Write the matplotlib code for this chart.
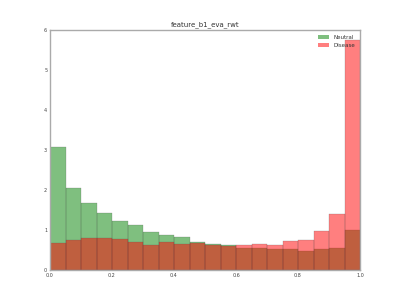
import numpy as np
import matplotlib
matplotlib.use('Agg')
import matplotlib.pyplot as plt

plt.style.use('classic')

# histogram bins (20 bins over 0..1) and normalized heights
edges = np.linspace(0, 1, 21)
neutral = [3.07, 2.05, 1.68, 1.43, 1.23, 1.12, 0.95, 0.875, 0.825, 0.70,
           0.65, 0.62, 0.55, 0.56, 0.52, 0.52, 0.47, 0.52, 0.54, 1.01]
disease = [0.67, 0.76, 0.81, 0.81, 0.77, 0.70, 0.63, 0.71, 0.65, 0.675,
           0.63, 0.61, 0.63, 0.66, 0.62, 0.72, 0.75, 0.975, 1.40, 5.76]

centers = (edges[:-1] + edges[1:]) / 2

fig = plt.figure(figsize=(8, 6), dpi=50)
ax = fig.add_subplot(111)
ax.hist(centers, bins=edges, weights=neutral, color='g', alpha=0.5,
        edgecolor='#555555', linewidth=0.6, label='Neutral')
ax.hist(centers, bins=edges, weights=disease, color='r', alpha=0.5,
        edgecolor='#555555', linewidth=0.6, label='Disease')
ax.set_xlim(0, 1)
ax.set_ylim(0, 6)
ax.set_title('feature_b1_eva_rwt', fontsize=10, color='#333333')
for s in ax.spines.values():
    s.set_color('#aaaaaa')
    s.set_linewidth(2)
ax.tick_params(length=0, labelsize=7, labelcolor='#444444')
ax.tick_params(axis='x', pad=5)
leg = ax.legend(loc='upper right', frameon=False, fontsize=8)
for p in leg.get_patches():
    p.set_edgecolor('none')
for t in leg.get_texts():
    t.set_color('#333333')
fig.savefig('out.png', dpi=50)
